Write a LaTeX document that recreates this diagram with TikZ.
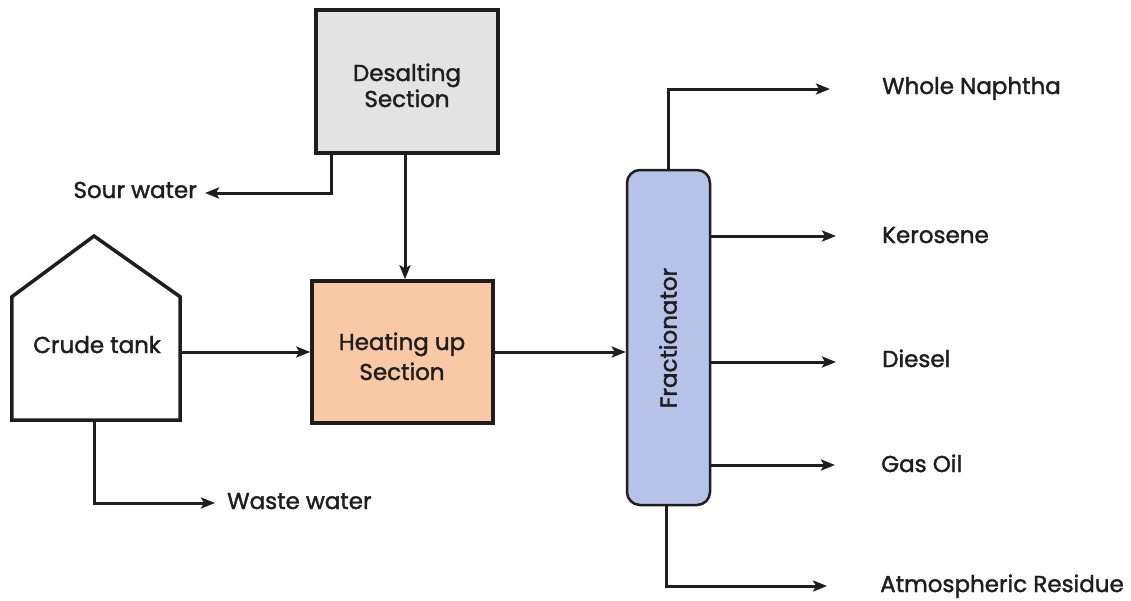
\documentclass[tikz,border=0pt]{standalone}
\usepackage{fontspec}
\setmainfont{Poppins}[BoldFont={Poppins}, BoldFeatures={FakeBold=1.6}]
\usetikzlibrary{arrows.meta}
\definecolor{desaltgray}{HTML}{E3E3E3}
\definecolor{heatpeach}{HTML}{F9C8A4}
\definecolor{fracblue}{HTML}{B7C2E8}
\definecolor{ink}{HTML}{1E1E1E}
\newcommand{\lblfont}{\fontsize{23}{27}\selectfont\bfseries}
\begin{document}
\begin{tikzpicture}[x=1pt,y=-1pt,
  flow/.style={draw=ink, line width=3pt, -{Stealth[length=14pt,width=11pt,inset=3pt]}},
  unitbox/.style={draw=ink, line width=3.5pt, inner sep=0pt, align=center, font=\lblfont, text=ink},
  lbl/.style={inner sep=0pt, font=\lblfont, text=ink}]
\useasboundingbox (0,0) rectangle (1131,600);

% process units
\node[unitbox, fill=desaltgray, minimum width=182pt, minimum height=143pt] (desalt) at (407,81.5) {};
\node[lbl, anchor=base] at (407,81) {Desalting};
\node[lbl, anchor=base] at (407,107) {Section};

\node[unitbox, fill=heatpeach, minimum width=181pt, minimum height=142pt] (heat) at (402.5,352) {};
\node[lbl, anchor=base] at (402,350) {Heating up};
\node[lbl, anchor=base] at (402,380) {Section};

\node[draw=ink, line width=2.5pt, rounded corners=13pt, fill=fracblue,
      minimum width=83pt, minimum height=335pt, inner sep=0pt] (frac) at (668.5,337.5) {};
\node[lbl, rotate=90] at (668,338) {Fractionator};

% crude tank: rectangular body with a pitched roof
\node[minimum width=168pt, minimum height=123pt, inner sep=0pt] (tank) at (96,358.5) {};
\coordinate (roof) at (94,236);
\draw[ink, line width=3.5pt, line join=miter]
  (tank.south west) -- (tank.north west) -- (roof) -- (tank.north east) -- (tank.south east) -- cycle;
\node[lbl, anchor=base] at (97,353) {Crude tank};

% stream end points
\coordinate (sourT) at (205,193);
\coordinate (wasteT) at (215,503);
\coordinate (naphT) at (830,89);
\coordinate (kerT) at (836,236);
\coordinate (dieT) at (836,362);
\coordinate (gasT) at (835,465);
\coordinate (resT) at (827,586);

% stream labels
\node[lbl, anchor=base east] at (197,198) {Sour water};
\node[lbl, anchor=base west] at (227,509) {Waste water};
\node[lbl, anchor=base west] at (882,94) {Whole Naphtha};
\node[lbl, anchor=base west] at (882,243) {Kerosene};
\node[lbl, anchor=base west] at (882,367) {Diesel};
\node[lbl, anchor=base west] at (881,472) {Gas Oil};
\node[lbl, anchor=base west] at (880,592) {Atmospheric Residue};

% connections
\draw[flow] (tank.east |- heat.west) -- (heat.west);
\draw[flow] (heat.east) -- (frac.west |- heat.east);
\draw[flow] ([xshift=2.5pt]heat.north |- desalt.south) -- ([xshift=2.5pt]heat.north);
\draw[flow] ([xshift=17pt]desalt.south west) |- (sourT);
\draw[flow] ([xshift=-2pt]tank.south) |- (wasteT);
\draw[flow] (frac.north) |- (naphT);
\draw[flow] (frac.east |- kerT) -- (kerT);
\draw[flow] (frac.east |- dieT) -- (dieT);
\draw[flow] (frac.east |- gasT) -- (gasT);
\draw[flow] ([xshift=-2.5pt]frac.south) |- (resT);
\end{tikzpicture}
\end{document}
